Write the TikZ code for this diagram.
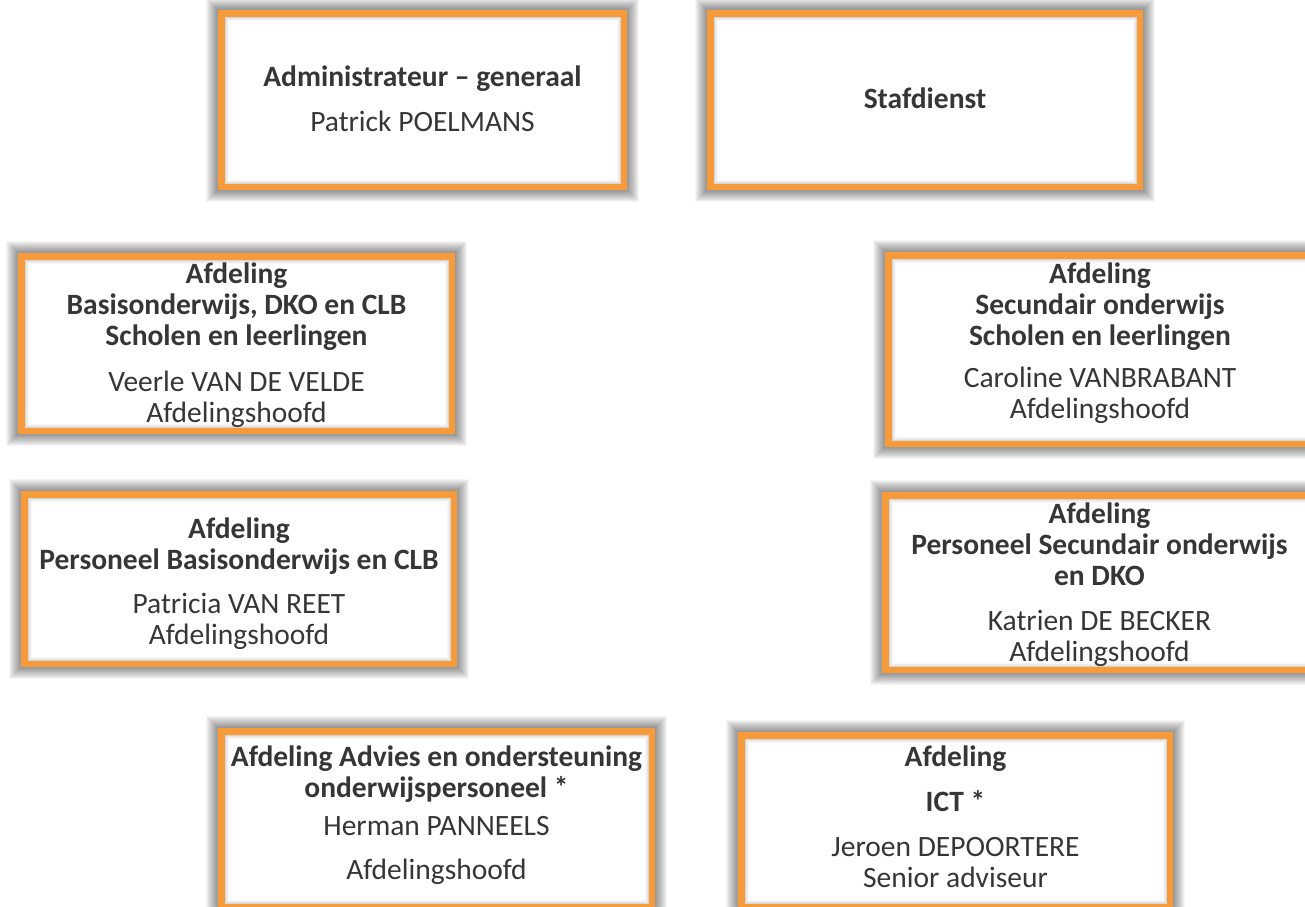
\documentclass[tikz,border=0pt]{standalone}
\usepackage{fontspec}
\setmainfont{Carlito}
\definecolor{orgorange}{HTML}{F79A3A}
\definecolor{orgtext}{HTML}{363636}
\tikzset{
  orgbox/.style={draw=orgorange, line width=6.5pt, fill=white, rectangle, inner sep=0pt, outer sep=0pt},
  orgtxt/.style={align=center, text=orgtext, inner sep=0pt, outer sep=0pt, anchor=north,
                 font=\fontsize{29.5}{31}\selectfont},
  glow/.style={fill=black, opacity=0.04},
  innershade/.style={draw=black, line width=1pt}
}
% #1 name, #2 x1, #3 y1, #4 x2, #5 y2 (outer edges of the orange border)
\newcommand{\orgframe}[5]{%
  \foreach \k in {1,...,12} {\fill[glow] ({#2-\k},{#3-\k}) rectangle ({#4+\k},{#5+\k});}
  \node[orgbox, minimum width={(#4-#2-6.5)*1pt}, minimum height={(#5-#3-6.5)*1pt}]
     (#1) at ({(#2+#4)/2},{(#3+#5)/2}) {};
  \foreach \k/\o in {1/0.16,2/0.10,3/0.06,4/0.03} {\draw[innershade, opacity=\o] ([shift={({3.25+\k-0.5},{3.25+\k-0.5})}]#1.north west)
     rectangle ([shift={({-3.25-\k+0.5},{-3.25-\k+0.5})}]#1.south east);}
}
\begin{document}
\begin{tikzpicture}[x=1pt,y=-1pt]
\useasboundingbox (0,0) rectangle (1305,906);
\clip (0,0) rectangle (1305,906);
\fill[white] (0,0) rectangle (1305,906);

\orgframe{admin}{218}{10}{627}{190}
\orgframe{staf}{707}{10}{1143}{190}
\orgframe{basis}{18}{253}{455}{434}
\orgframe{sec}{885}{252}{1315}{447}
\orgframe{pbasis}{21}{491}{457}{667}
\orgframe{psec}{882}{492}{1317}{673}
\orgframe{advies}{218}{728}{655}{910}
\orgframe{ict}{738}{732}{1173}{910}

\node[orgtxt] (admin-t) at (admin.center |- 0,66)
  {\textbf{Administrateur – generaal}\\[14pt]Patrick POELMANS};
\node[orgtxt] (staf-t) at (staf.center |- 0,88) {\textbf{Stafdienst}};
\node[orgtxt] (basis-t) at (basis.center |- 0,263)
  {\textbf{Afdeling}\\\textbf{Basisonderwijs, DKO en CLB}\\\textbf{Scholen en leerlingen}\\[15pt]Veerle VAN DE VELDE\\Afdelingshoofd};
\node[orgtxt] (sec-t) at (sec.center |- 0,263)
  {\textbf{Afdeling}\\\textbf{Secundair onderwijs}\\\textbf{Scholen en leerlingen}\\[11pt]Caroline VANBRABANT\\Afdelingshoofd};
\node[orgtxt] (pbasis-t) at (pbasis.center |- 0,518)
  {\textbf{Afdeling}\\\textbf{Personeel Basisonderwijs en CLB}\\[13pt]Patricia VAN REET\\Afdelingshoofd};
\node[orgtxt] (psec-t) at (psec.center |- 0,503)
  {\textbf{Afdeling}\\\textbf{Personeel Secundair onderwijs}\\\textbf{en DKO}\\[14pt]Katrien DE BECKER\\Afdelingshoofd};
\node[orgtxt] (advies-t) at (advies.center |- 0,746)
  {\textbf{Afdeling Advies en ondersteuning}\\\textbf{onderwijspersoneel *}\\[7pt]Herman PANNEELS\\[13pt]Afdelingshoofd};
\node[orgtxt] (ict-t) at (ict.center |- 0,746)
  {\textbf{Afdeling}\\[14pt]\textbf{ICT *}\\[14pt]Jeroen DEPOORTERE\\Senior adviseur};
\end{tikzpicture}
\end{document}
